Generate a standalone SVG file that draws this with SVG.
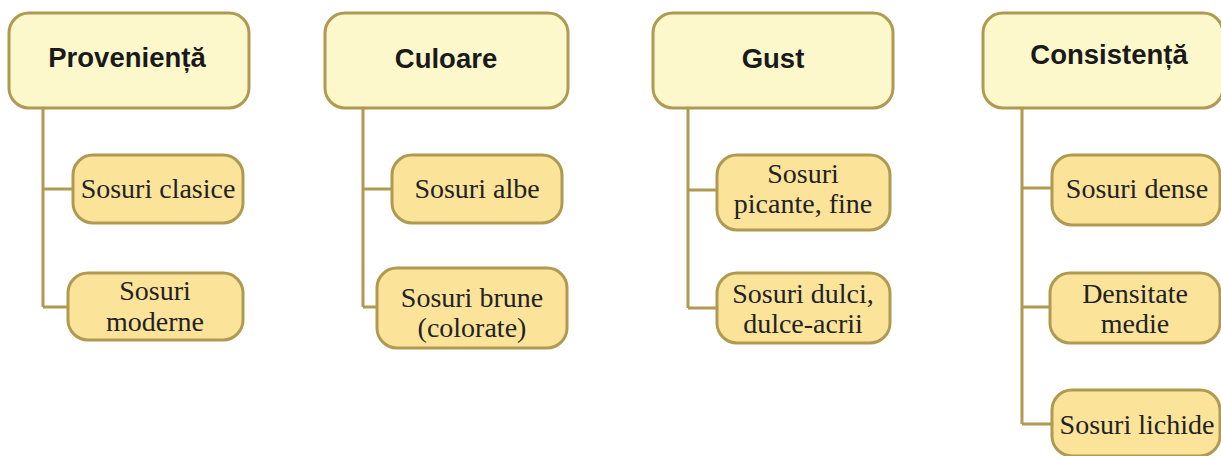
<svg xmlns="http://www.w3.org/2000/svg" width="1221" height="456" viewBox="0 0 1221 456">
<style>
.top{fill:#fdf8cc;stroke:#b09a52;stroke-width:3}
.sub{fill:#fbe39a;stroke:#b09a52;stroke-width:3}
.conn{fill:none;stroke:#b09a52;stroke-width:3}
.th{font-family:"Liberation Sans",Arial,sans-serif;font-weight:bold;font-size:27.5px;fill:#1a1a1a;text-anchor:middle}
.st{font-family:"Liberation Serif","Times New Roman",serif;font-size:28px;fill:#222;text-anchor:middle}
</style>
<rect width="1221" height="456" fill="#ffffff"/>
<g id="connectors">
<path class="conn" d="M43,109 V307 M43,189 H73 M43,307 H68"/>
<path class="conn" d="M363,109 V307 M363,189 H392 M363,307 H377"/>
<path class="conn" d="M688,109 V308 M688,190 H717 M688,308 H717"/>
<path class="conn" d="M1022,109 V424 M1022,188 H1052 M1022,307 H1050 M1022,424 H1052"/>
</g>
<g id="n-provenienta"><rect class="top" x="9" y="13" width="240" height="95" rx="20"/><text class="th" x="127" y="67">Provenienț&#x103;</text></g>
<g id="n-culoare"><rect class="top" x="325" y="13" width="243" height="95" rx="20"/><text class="th" x="446" y="68">Culoare</text></g>
<g id="n-gust"><rect class="top" x="653" y="13" width="240" height="95" rx="20"/><text class="th" x="773" y="68">Gust</text></g>
<g id="n-consistenta"><rect class="top" x="983" y="13" width="240" height="95" rx="20"/><text class="th" x="1109" y="64">Consistenț&#x103;</text></g>
<g id="n-clasice"><rect class="sub" x="73" y="155" width="170" height="68" rx="20"/><text class="st" x="158" y="198">Sosuri clasice</text></g>
<g id="n-moderne"><rect class="sub" x="68" y="273" width="175" height="67" rx="20"/><text class="st" x="155" y="300">Sosuri</text><text class="st" x="155" y="331">moderne</text></g>
<g id="n-albe"><rect class="sub" x="392" y="155" width="170" height="68" rx="20"/><text class="st" x="477" y="198">Sosuri albe</text></g>
<g id="n-brune"><rect class="sub" x="377" y="268" width="190" height="80" rx="20"/><text class="st" x="472" y="307">Sosuri brune</text><text class="st" x="472" y="337">(colorate)</text></g>
<g id="n-picante"><rect class="sub" x="717" y="155" width="173" height="75" rx="20"/><text class="st" x="803" y="183">Sosuri</text><text class="st" x="803" y="213">picante, fine</text></g>
<g id="n-dulci"><rect class="sub" x="717" y="273" width="173" height="70" rx="20"/><text class="st" x="803" y="303">Sosuri dulci,</text><text class="st" x="803" y="333">dulce-acrii</text></g>
<g id="n-dense"><rect class="sub" x="1052" y="155" width="168" height="70" rx="20"/><text class="st" x="1137" y="198">Sosuri dense</text></g>
<g id="n-medie"><rect class="sub" x="1050" y="273" width="170" height="70" rx="20"/><text class="st" x="1135" y="303">Densitate</text><text class="st" x="1135" y="333">medie</text></g>
<g id="n-lichide"><rect class="sub" x="1052" y="390" width="168" height="66" rx="20"/><text class="st" x="1137" y="434">Sosuri lichide</text></g>
</svg>
